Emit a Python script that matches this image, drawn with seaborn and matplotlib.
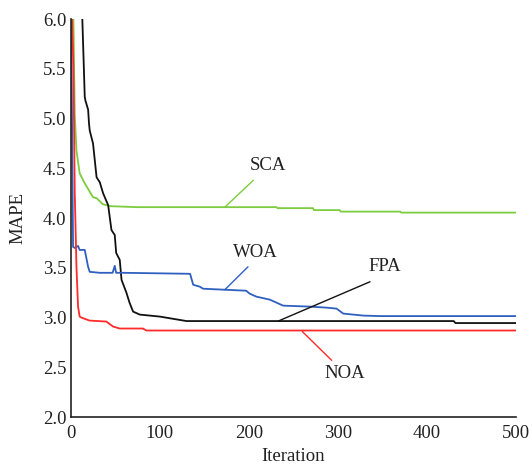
import matplotlib
matplotlib.use("Agg")
import matplotlib.pyplot as plt
import seaborn as sns
import pandas as pd

# ---- data ----
fpa_iter = [10, 13, 15.7, 16.5, 19.5, 20.5, 21.3, 25, 27, 29, 32.6, 36.3, 42, 45.7, 49.4, 51, 55, 57,
            62.5, 66, 70, 77.5, 100, 130, 430, 432, 500]
fpa_val = [6.3, 6.0, 5.22, 5.18, 5.09, 4.95, 4.88, 4.75, 4.58, 4.41, 4.36, 4.25, 4.13, 3.88, 3.83, 3.65,
           3.58, 3.38, 3.25, 3.15, 3.06, 3.03, 3.01, 2.965, 2.965, 2.945, 2.945]

sca_iter = [0, 3, 4.5, 6.4, 10, 15.7, 25, 29, 36, 44, 74, 167, 231, 232, 272, 273, 302, 303, 370, 371, 500]
sca_val = [6.5, 6.0, 5.05, 4.68, 4.45, 4.35, 4.21, 4.2, 4.14, 4.12, 4.11, 4.11, 4.11, 4.10, 4.10, 4.08,
           4.08, 4.065, 4.065, 4.055, 4.055]

woa_iter = [0, 2.6, 4.5, 8.2, 10, 15.7, 19.5, 21.3, 32.6, 47, 49.4, 51, 60, 134, 137.5, 145, 148.6, 197,
            201, 208.6, 223.6, 238.5, 269, 287, 298.5, 306, 328.5, 347, 500]
woa_val = [6.5, 3.71, 3.70, 3.72, 3.68, 3.68, 3.51, 3.46, 3.45, 3.45, 3.52, 3.45, 3.45, 3.44, 3.33, 3.31,
           3.29, 3.27, 3.24, 3.21, 3.18, 3.12, 3.11, 3.10, 3.09, 3.04, 3.02, 3.015, 3.015]

noa_iter = [0, 3, 4.5, 6.4, 8.2, 10, 12, 21, 40, 47.5, 55, 81, 85, 500]
noa_val = [6.5, 5.5, 4.25, 3.51, 3.11, 3.01, 3.0, 2.97, 2.96, 2.91, 2.89, 2.89, 2.87, 2.87]

x_ticks = [0, 100, 200, 300, 400, 500]
y_ticks = [2.0, 2.5, 3.0, 3.5, 4.0, 4.5, 5.0, 5.5, 6.0]

colors = {"FPA": "#111111", "SCA": "#7dcc3f", "WOA": "#2f5fbf", "NOA": "#ff2a2a"}

frames = []
for name, it, v in [("SCA", sca_iter, sca_val), ("FPA", fpa_iter, fpa_val),
                    ("WOA", woa_iter, woa_val), ("NOA", noa_iter, noa_val)]:
    frames.append(pd.DataFrame({"Iteration": it, "MAPE": v, "algo": name}))
df = pd.concat(frames, ignore_index=True)

sns.set_style("white")
plt.rcParams["font.family"] = ["Liberation Serif", "DejaVu Serif"]

fig = plt.figure(figsize=(5.32, 4.66), dpi=100)
ax = fig.add_axes([0.133, 0.105, 0.837, 0.854])

sns.lineplot(data=df, x="Iteration", y="MAPE", hue="algo", palette=colors,
             estimator=None, sort=False, legend=False, linewidth=1.3, ax=ax)

ax.set_xlim(0, 500)
ax.set_ylim(2.0, 6.0)
ax.set_xticks(x_ticks)
ax.set_yticks(y_ticks)
ax.set_yticklabels([f"{t:.1f}" for t in y_ticks])
ax.tick_params(direction="in", length=5, width=1, labelsize=13.5, colors="#222222")
ax.tick_params(axis="x", pad=6)
ax.tick_params(axis="y", pad=3)
for s in ["top", "right"]:
    ax.spines[s].set_visible(False)
for s in ["left", "bottom"]:
    ax.spines[s].set_color("#222222")
    ax.spines[s].set_linewidth(1.2)

ax.set_xlabel("Iteration", fontsize=13.5, labelpad=4, color="#222222")
ax.set_ylabel("MAPE", fontsize=13.5, labelpad=12, color="#222222")

ann = [("SCA", (173, 4.11), (221, 4.53), "SCA"),
       ("WOA", (173, 3.28), (207, 3.65), "WOA"),
       ("FPA", (233, 2.965), (353, 3.51), "FPA"),
       ("NOA", (260, 2.86), (308, 2.44), "NOA")]
line_end = {"SCA": (205, 4.38), "WOA": (199, 3.51), "FPA": (336, 3.36), "NOA": (293, 2.57)}
for name, start, txt, label in ann:
    ax.plot([start[0], line_end[name][0]], [start[1], line_end[name][1]],
            color=colors[name], linewidth=1.0)
    ax.text(txt[0], txt[1], label, fontsize=13.5, ha="center", va="center", color="#222222")

fig.savefig("out.png", dpi=100, facecolor="white")
